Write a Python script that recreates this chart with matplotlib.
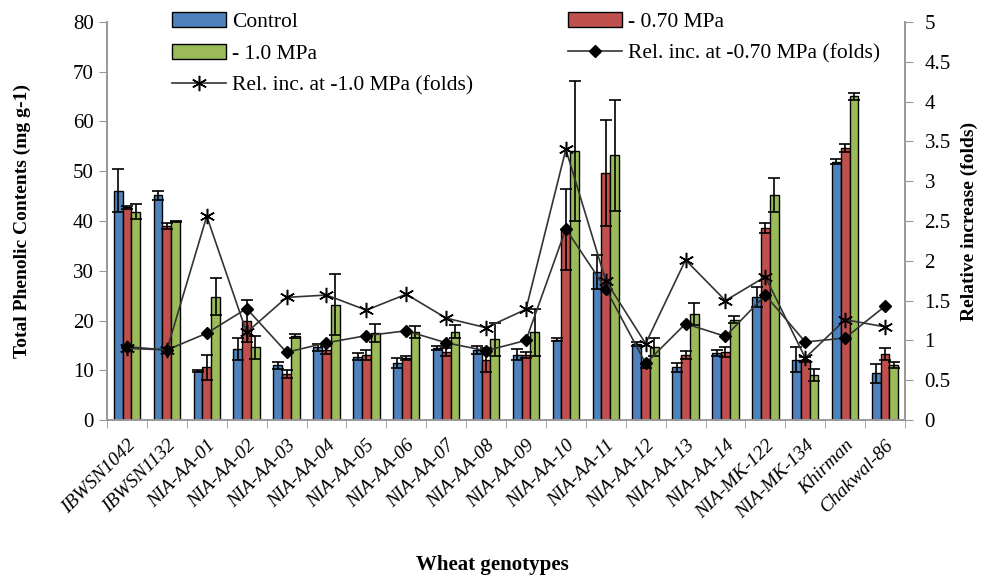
import matplotlib
matplotlib.use("Agg")
import matplotlib.pyplot as plt
import numpy as np

plt.rcParams['font.family'] = ['Liberation Serif', 'DejaVu Serif']

genotypes = ['IBWSN1042', 'IBWSN1132', 'NIA-AA-01', 'NIA-AA-02', 'NIA-AA-03',
             'NIA-AA-04', 'NIA-AA-05', 'NIA-AA-06', 'NIA-AA-07', 'NIA-AA-08',
             'NIA-AA-09', 'NIA-AA-10', 'NIA-AA-11', 'NIA-AA-12', 'NIA-AA-13',
             'NIA-AA-14', 'NIA-MK-122', 'NIA-MK-134', 'Khirman', 'Chakwal-86']

control = [46.1, 45.2, 9.9, 14.2, 11.0, 14.6, 12.7, 11.4, 14.5, 14.0,
           13.1, 16.1, 29.7, 15.2, 10.6, 13.4, 24.8, 12.1, 51.9, 9.4]
control_err = [4.3, 0.9, 0.2, 2.2, 0.7, 0.7, 0.7, 1.0, 0.4, 0.8,
               1.1, 0.3, 3.4, 0.4, 0.9, 0.6, 2.0, 2.5, 0.5, 1.9]
mpa070 = [42.8, 38.9, 10.6, 19.9, 9.2, 14.1, 13.1, 12.5, 13.6, 12.1,
          13.0, 38.3, 49.6, 10.9, 13.1, 13.7, 38.5, 12.1, 54.6, 13.3]
mpa070_err = [0.3, 0.6, 2.5, 4.2, 0.8, 0.8, 1.0, 0.4, 0.8, 2.4,
              0.6, 8.1, 10.7, 0.4, 0.8, 1.0, 1.0, 0.5, 0.8, 1.2]
mpa10 = [41.9, 39.9, 24.8, 14.6, 16.8, 23.2, 17.5, 17.6, 17.7, 16.2,
         17.6, 54.1, 53.2, 14.6, 21.3, 20.2, 45.2, 9.0, 65.1, 11.1]
mpa10_err = [1.5, 0.1, 3.7, 2.3, 0.4, 6.2, 1.8, 1.2, 1.3, 3.3,
             4.7, 14.1, 11.1, 1.8, 2.3, 0.7, 3.4, 1.2, 0.7, 0.6]
rel070 = [0.92, 0.88, 1.09, 1.40, 0.85, 0.97, 1.06, 1.12, 0.97, 0.87,
          1.00, 2.40, 1.65, 0.71, 1.21, 1.05, 1.57, 0.98, 1.03, 1.43]
rel10 = [0.90, 0.88, 2.56, 1.10, 1.54, 1.57, 1.38, 1.58, 1.28, 1.16,
         1.39, 3.40, 1.75, 0.96, 2.01, 1.50, 1.80, 0.78, 1.26, 1.17]

fig = plt.figure(figsize=(9.85, 5.78), dpi=100)
ax = fig.add_axes([107/985, 1 - 420/578, 798/985, 398/578])
ax2 = ax.twinx()

x = np.arange(len(genotypes))
w = 0.22
ekw = dict(ecolor='black', capsize=4, elinewidth=1.2, capthick=1.2)
b1 = ax.bar(x - w, control, w, yerr=control_err, color='#4F81BD',
            edgecolor='black', linewidth=1, error_kw=ekw, label='Control')
b2 = ax.bar(x, mpa070, w, yerr=mpa070_err, color='#C0504D',
            edgecolor='black', linewidth=1, error_kw=ekw, label='- 0.70 MPa')
b3 = ax.bar(x + w, mpa10, w, yerr=mpa10_err, color='#9BBB59',
            edgecolor='black', linewidth=1, error_kw=ekw, label='- 1.0 MPa')

l1, = ax2.plot(x, rel070, color='#333333', lw=1.2, marker='D', ms=6,
               mfc='black', mec='black', label='Rel. inc. at -0.70 MPa (folds)')
l2, = ax2.plot(x, rel10, color='#333333', lw=1.2, marker=(6, 2, 0), ms=11,
               mec='black', mew=1.1, label='Rel. inc. at -1.0 MPa (folds)')

ax.set_xlim(-0.5, len(genotypes) - 0.5)
ax.set_ylim(0, 80)
ax.set_yticks(np.arange(0, 81, 10))
ax2.set_ylim(0, 5)
ax2.set_yticks(np.arange(0, 5.01, 0.5))
ax2.set_yticklabels(['0', '0.5', '1', '1.5', '2', '2.5', '3', '3.5', '4', '4.5', '5'])

ax.set_xticks(x)
ax.set_xticklabels(genotypes, rotation=45, ha='right', rotation_mode='anchor',
                   style='italic', fontsize=14)
ax.set_xticks(np.arange(-0.5, len(genotypes)), minor=True)
ax.tick_params(axis='x', which='major', length=0, pad=12)
ax.tick_params(axis='x', which='minor', length=6, color='#999999')
ax.tick_params(axis='y', labelsize=15, color='#999999', length=6)
ax2.tick_params(axis='y', labelsize=15, color='#999999', length=6, pad=8)

for a in (ax, ax2):
    a.spines['top'].set_visible(False)
    for s in ('left', 'right', 'bottom'):
        a.spines[s].set_color('#999999')
        a.spines[s].set_linewidth(1.2)

ax.set_ylabel('Total Phenolic Contents (mg g-1)', fontsize=14, fontweight='bold', labelpad=30)
ax2.set_ylabel('Relative increase (folds)', fontsize=14, fontweight='bold', labelpad=7)
fig.text(0.5, 1 - 565/578, 'Wheat genotypes', ha='center', va='center',
         fontsize=15, fontweight='bold')

fig.legend([b1, b3, l2, b2, l1],
           ['Control', '- 1.0 MPa', 'Rel. inc. at -1.0 MPa (folds)',
            '- 0.70 MPa', 'Rel. inc. at -0.70 MPa (folds)'],
           ncol=2, loc='upper left', bbox_to_anchor=(160/985, 1.0),
           frameon=False, fontsize=15.5, handlelength=2.5, handletextpad=0.3,
           columnspacing=4.4, labelspacing=0.55, borderaxespad=0.15)

fig.savefig('out.png', dpi=100)
